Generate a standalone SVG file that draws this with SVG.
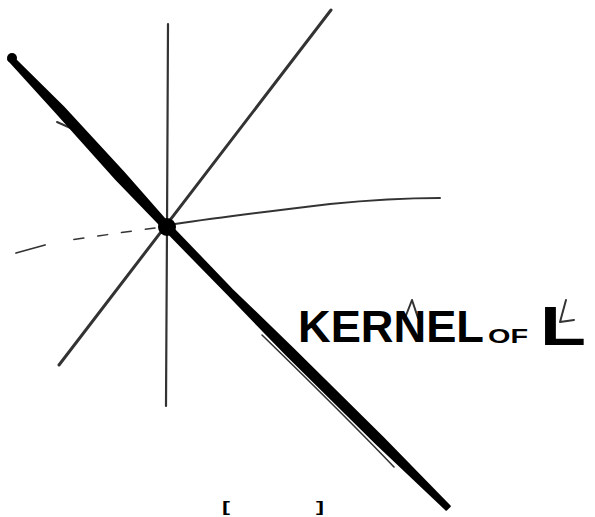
<svg xmlns="http://www.w3.org/2000/svg" width="595" height="517" viewBox="0 0 595 517">
<style>
.pencil{fill:none;stroke:#333;stroke-linecap:round;stroke-linejoin:round}
.ink{fill:#000;stroke:#000;stroke-width:2;stroke-linecap:round;stroke-linejoin:round}
.label{font-family:"Liberation Sans",Arial,sans-serif;font-weight:bold;fill:#000}
</style>
<rect width="595" height="517" fill="#fff"/>
<g id="lines">
<path class="pencil" d="M168,24 L167.5,130 L167,227 L166,406" stroke-width="2.2"/>
<path class="pencil" d="M331,10 L59,365" stroke-width="3"/>
<path class="pencil" d="M175,224 C230,216 280,210 330,204 C380,199 410,198 440,198" stroke-width="2"/>
<path class="pencil" d="M155,228 C130,231 100,236 70,240" stroke="#aaa" stroke-width="1.5" stroke-dasharray="10 14"/>
<path class="pencil" d="M45,245 L16,253" stroke="#888" stroke-width="1.8"/>
<path class="pencil" d="M57,122 L75,130" stroke="#666" stroke-width="2"/>
<path class="pencil" d="M262,335 C300,372 350,421 394,467" stroke-width="1.6"/>
</g>
<g id="kernel">
<path class="ink" d="M11.8,56.3 L63.2,106.9 L123.6,172.5 L169.5,224.6 L232.2,289.9 L293.2,348.9 L383.2,437.9 L449.8,506.3 L446.2,509.7 L376.8,444.1 L286.8,355.1 L227.8,294.1 L164.5,229.4 L116.4,179.5 L56.8,113.1 L8.2,59.7 Z"/>
<circle cx="12" cy="58" r="5" fill="#000"/>
</g>
<g id="origin">
<circle cx="167" cy="227" r="9" fill="#000"/>
</g>
<g id="label">
<path d="M412,300 L405,318 M412,300 L418,318" class="pencil" stroke="#bbb" stroke-width="2"/>
<path d="M566,300 L560,322 L574,320" class="pencil" stroke="#bbb" stroke-width="2"/>
<text class="label" x="298" y="342" font-size="44" textLength="186" lengthAdjust="spacingAndGlyphs">KERNEL</text>
<text class="label" x="488" y="343" font-size="20" textLength="40" lengthAdjust="spacingAndGlyphs">OF</text>
<text class="label" x="540" y="345" font-size="56" textLength="46" lengthAdjust="spacingAndGlyphs">L</text>
</g>
<g id="matrix">
<text class="label" x="222" y="512" font-size="14" font-weight="normal" textLength="8" lengthAdjust="spacingAndGlyphs">[</text>
<text class="label" x="316" y="512" font-size="14" font-weight="normal" textLength="8" lengthAdjust="spacingAndGlyphs">]</text>
</g>
</svg>
